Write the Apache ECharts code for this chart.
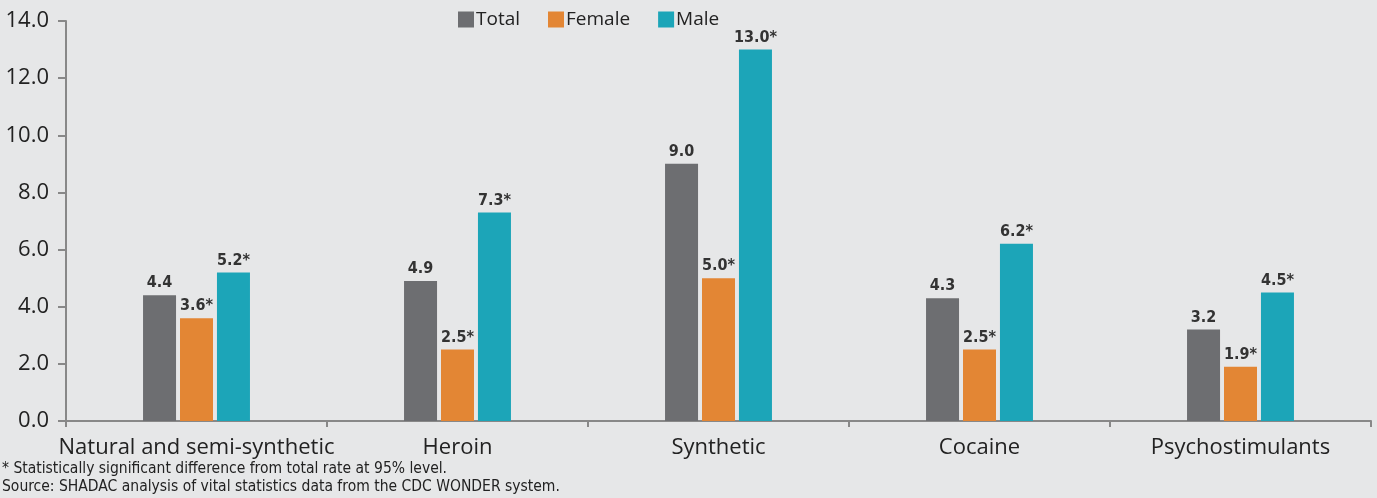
<!DOCTYPE html>
<html><head><meta charset="utf-8">
<script src="https://cdn.jsdelivr.net/npm/echarts@6/dist/echarts.min.js"></script>
<style>html,body{margin:0;padding:0;background:#e6e7e8;}#c{width:1377px;height:498px;}</style>
</head><body><div id="c"></div>
<script>
const categories = ["Natural and semi-synthetic", "Heroin", "Synthetic", "Cocaine", "Psychostimulants"];
const total = [4.4, 4.9, 9.0, 4.3, 3.2];
const female = [3.6, 2.5, 5.0, 2.5, 1.9];
const male = [5.2, 7.3, 13.0, 6.2, 4.5];
const femaleSig = [true, true, true, true, true];
const maleSig = [true, true, true, true, true];
const yTicks = [0, 2, 4, 6, 8, 10, 12, 14];
const footnotes = ["* Statistically significant difference from total rate at 95% level.", "Source: SHADAC analysis of vital statistics data from the CDC WONDER system."];

const condensed = '"DejaVu Sans Condensed","Liberation Sans Narrow",sans-serif';
const chart = echarts.init(document.getElementById('c'));
const labelFont = {show: true, position: 'top', distance: 4, fontFamily: condensed, fontWeight: 'bold', fontSize: 16, color: '#333'};
function mk(name, data, color, sig) {
  return {
    name, type: 'bar', data, barWidth: 33, barGap: '12%',
    itemStyle: {color},
    label: Object.assign({}, labelFont, {formatter: p => p.value.toFixed(1) + (sig && sig[p.dataIndex] ? '*' : '')})
  };
}
chart.setOption({
  backgroundColor: '#e6e7e8',
  animation: false,
  legend: {
    top: 5, left: 453, itemWidth: 16, itemHeight: 16, itemGap: 28,
    icon: 'rect',
    textStyle: {fontFamily: '"Open Sans",sans-serif', fontSize: 19, color: '#222', padding: [0,0,0,-3]},
    data: ['Total', 'Female', 'Male']
  },
  grid: {left: 66, right: 6, top: 21, bottom: 77, containLabel: false},
  xAxis: {
    type: 'category', data: categories,
    axisLine: {lineStyle: {color: '#888', width: 2}},
    axisTick: {show: true, interval: 0, length: 6, lineStyle: {color: '#888', width: 2}},
    axisLabel: {interval: 0, fontFamily: '"Open Sans",sans-serif', fontSize: 22, color: '#222', margin: 16}
  },
  yAxis: {
    type: 'value', min: yTicks[0], max: yTicks[yTicks.length-1], interval: 2,
    axisLine: {show: true, lineStyle: {color: '#888', width: 2}},
    axisTick: {show: true, length: 8, lineStyle: {color: '#888', width: 2}},
    splitLine: {show: false},
    axisLabel: {fontFamily: '"Open Sans",sans-serif', fontSize: 22, color: '#222', margin: 17, formatter: v => v.toFixed(1)}
  },
  graphic: [
    {type: 'text', left: 2, top: 461, style: {text: footnotes[0], fontFamily: condensed, fontSize: 15.5, fill: '#222'}},
    {type: 'text', left: 2, top: 479, style: {text: footnotes[1], fontFamily: condensed, fontSize: 15.5, fill: '#222'}}
  ],
  series: [
    mk('Total', total, '#6d6e71', null),
    mk('Female', female, '#e38634', femaleSig),
    mk('Male', male, '#1ca5b8', maleSig)
  ]
});
</script></body></html>
